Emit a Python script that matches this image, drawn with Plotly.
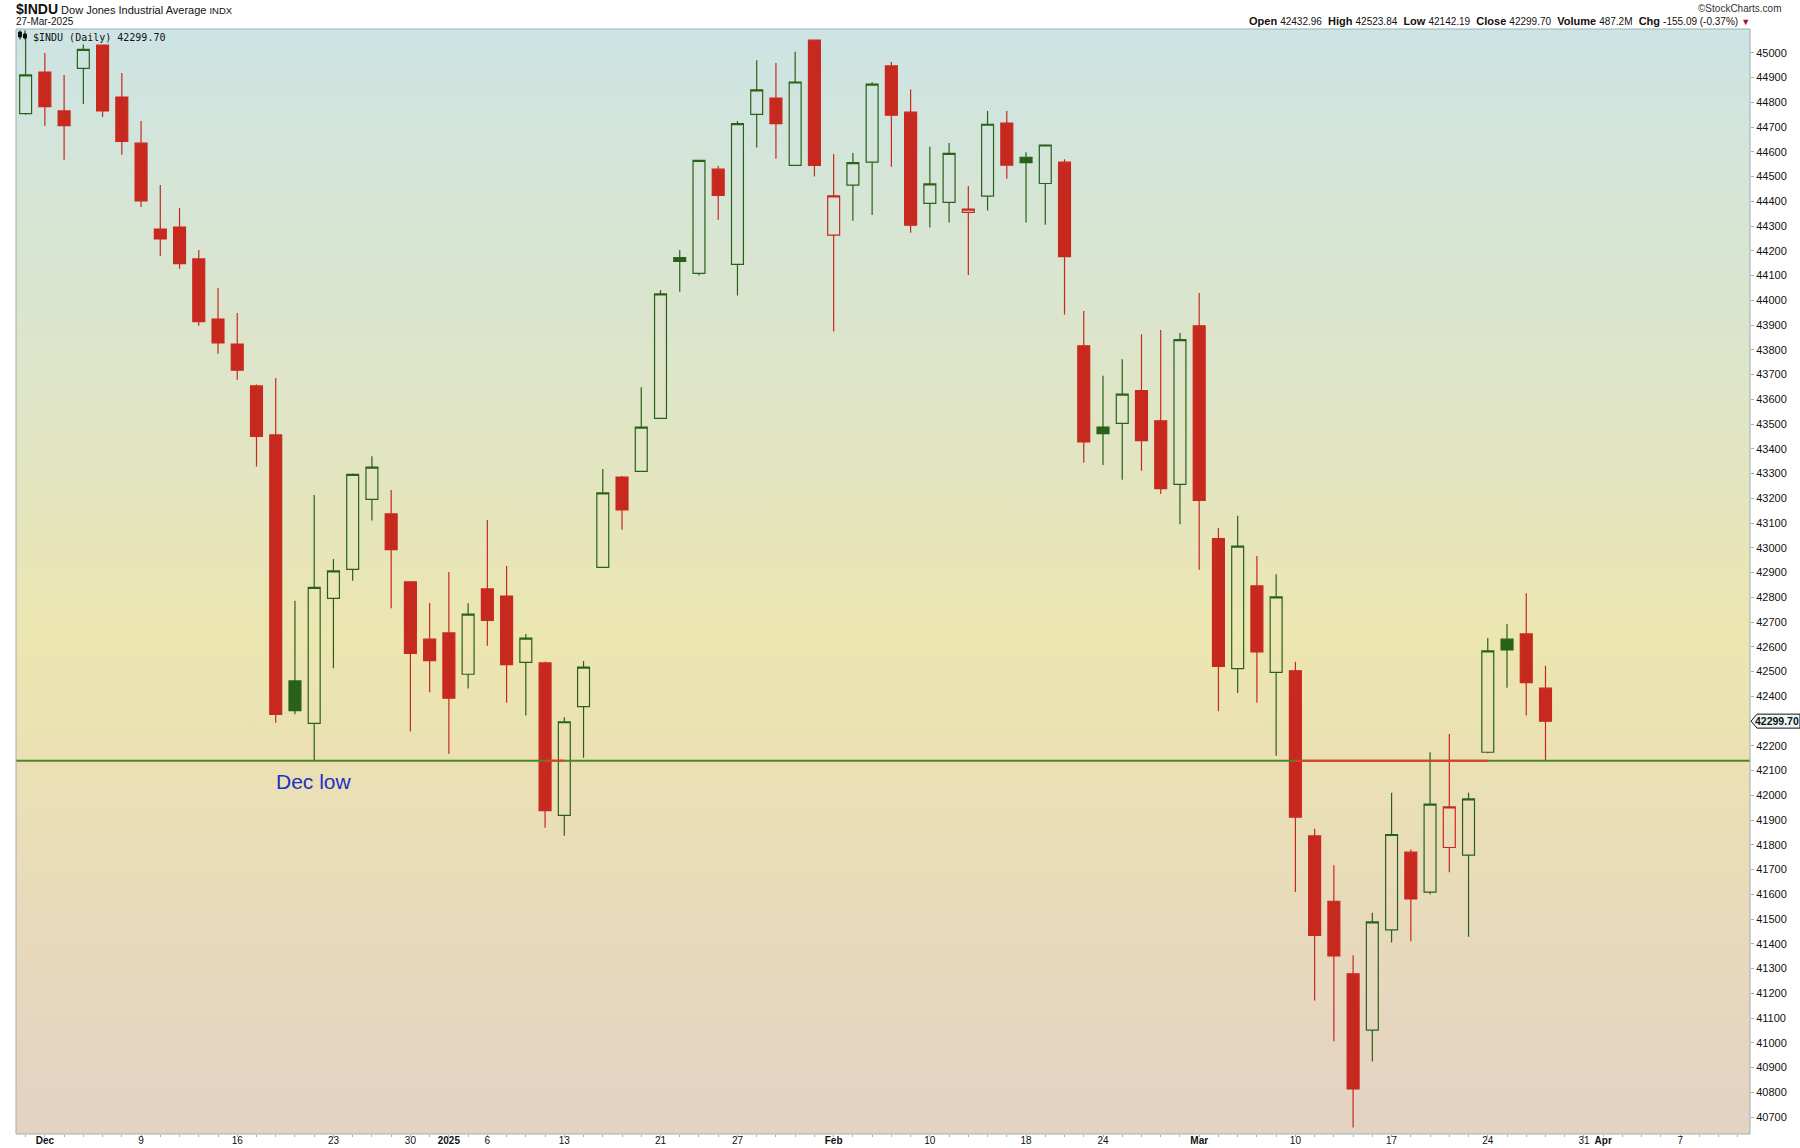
import base64
import pandas as pd
import plotly.graph_objects as go

# $INDU daily bars, 29-Nov-2024 .. 27-Mar-2025
dates = [
    "2024-11-29", "2024-12-02", "2024-12-03", "2024-12-04", "2024-12-05", "2024-12-06",
    "2024-12-09", "2024-12-10", "2024-12-11", "2024-12-12", "2024-12-13",
    "2024-12-16", "2024-12-17", "2024-12-18", "2024-12-19", "2024-12-20",
    "2024-12-23", "2024-12-24", "2024-12-26", "2024-12-27", "2024-12-30", "2024-12-31",
    "2025-01-02", "2025-01-03", "2025-01-06", "2025-01-07", "2025-01-08", "2025-01-10",
    "2025-01-13", "2025-01-14", "2025-01-15", "2025-01-16", "2025-01-17",
    "2025-01-21", "2025-01-22", "2025-01-23", "2025-01-24",
    "2025-01-27", "2025-01-28", "2025-01-29", "2025-01-30", "2025-01-31",
    "2025-02-03", "2025-02-04", "2025-02-05", "2025-02-06", "2025-02-07",
    "2025-02-10", "2025-02-11", "2025-02-12", "2025-02-13", "2025-02-14",
    "2025-02-18", "2025-02-19", "2025-02-20", "2025-02-21",
    "2025-02-24", "2025-02-25", "2025-02-26", "2025-02-27", "2025-02-28",
    "2025-03-03", "2025-03-04", "2025-03-05", "2025-03-06", "2025-03-07",
    "2025-03-10", "2025-03-11", "2025-03-12", "2025-03-13", "2025-03-14",
    "2025-03-17", "2025-03-18", "2025-03-19", "2025-03-20", "2025-03-21",
    "2025-03-24", "2025-03-25", "2025-03-26", "2025-03-27",
]
opens = [
    44754, 44922, 44765, 44937, 45037, 44821,
    44635, 44288, 44296, 44167, 43924,
    43823, 43654, 43456, 42462, 42291,
    42796, 42913, 43196, 43137, 42862, 42631,
    42656, 42489, 42834, 42805, 42537, 42535,
    41919, 42358, 42921, 43286, 43309,
    43523, 44173, 44109, 44530,
    44145, 44751, 44817, 44545, 45051,
    44263, 44465, 44558, 44947, 44760,
    44392, 44396, 44355, 44421, 44716,
    44578, 44472, 44558, 43816,
    43488, 43503, 43635, 43513, 43256,
    43897, 43037, 42512, 42846, 42497,
    42503, 41836, 41572, 41279, 41051,
    41456, 41770, 41609, 41789, 41758,
    42174, 42631, 42652, 42432.96,
]
highs = [
    45070, 44999, 44910, 45062, 45073, 44918,
    44724, 44466, 44373, 44203, 44050,
    43949, 43660, 43686, 42786, 43213,
    42955, 43300, 43370, 43234, 42865, 42777,
    42902, 42776, 43112, 42926, 42652, 42540,
    42315, 42543, 43318, 43290, 43649,
    44042, 44203, 44568, 44543,
    44724, 44970, 44959, 45004, 45054,
    44591, 44595, 44881, 44963, 44852,
    44620, 44636, 44462, 44765, 44765,
    44598, 44631, 44570, 43957,
    43695, 43762, 43863, 43880, 43868,
    44030, 43080, 43130, 42967, 42893,
    42540, 41865, 41717, 41354, 41525,
    42010, 41781, 42174, 42248, 42010,
    42636, 42692, 42816, 42523.84,
]
lows = [
    44750, 44705, 44568, 44793, 44741, 44588,
    44377, 44179, 44128, 43897, 43784,
    43679, 43328, 42293, 42327, 42140,
    42513, 42867, 43110, 42756, 42258, 42416,
    42168, 42432, 42604, 42374, 42322, 41869,
    41837, 42152, 42921, 43073, 43309,
    43523, 44035, 44100, 44325,
    44019, 44617, 44572, 44545, 44500,
    43874, 44321, 44345, 44540, 44273,
    44294, 44314, 44102, 44363, 44491,
    44314, 44305, 43943, 43344,
    43335, 43275, 43311, 43217, 43095,
    42911, 42340, 42413, 42374, 42160,
    41609, 41171, 41006, 40658, 40924,
    41405, 41410, 41600, 41689, 41428,
    42170, 42435, 42322, 42142.19,
]
closes = [
    44910.65, 44782.00, 44705.53, 45014.04, 44765.71, 44642.52,
    44401.93, 44247.83, 44148.56, 43914.12, 43828.06,
    43717.48, 43449.90, 42326.87, 42342.24, 42840.26,
    42906.95, 43297.03, 43325.80, 42992.21, 42573.73, 42544.22,
    42392.27, 42732.13, 42706.56, 42528.36, 42635.20, 41938.45,
    42297.12, 42518.28, 43221.55, 43153.13, 43487.83,
    44025.81, 44156.73, 44565.07, 44424.25,
    44713.58, 44850.35, 44713.52, 44882.13, 44544.66,
    44421.91, 44556.04, 44873.28, 44747.63, 44303.40,
    44470.41, 44593.65, 44368.56, 44711.43, 44546.08,
    44556.34, 44627.59, 44176.65, 43428.02,
    43461.21, 43621.16, 43433.12, 43239.50, 43840.91,
    43191.24, 42520.99, 43006.59, 42579.08, 42801.72,
    41911.71, 41433.48, 41350.93, 40813.57, 41488.19,
    41841.63, 41581.31, 41964.63, 41953.32, 41985.35,
    42583.32, 42587.50, 42454.79, 42299.70,
]
prev_close = 44722.06  # close before the first bar, colours it

# market holidays inside the window (axis counts trading sessions only)
holidays = ["2024-12-25", "2025-01-01", "2025-01-09", "2025-01-20", "2025-02-17"]

tick_dates = ["2024-12-02", "2024-12-09", "2024-12-16", "2024-12-23", "2024-12-30",
              "2025-01-02", "2025-01-06", "2025-01-13", "2025-01-21", "2025-01-27",
              "2025-02-03", "2025-02-10", "2025-02-18", "2025-02-24",
              "2025-03-03", "2025-03-10", "2025-03-17", "2025-03-24", "2025-03-31",
              "2025-04-01", "2025-04-07"]
tick_text = ["<b>Dec</b>", "9", "16", "23", "30", "<b>2025</b>", "6", "13", "21", "27",
             "<b>Feb</b>", "10", "18", "24", "<b>Mar</b>", "10", "17", "24", "31",
             "<b>Apr</b>", "7"]
price_ticks = list(range(40700, 45001, 100))

dec_low = 42140
dec_low_date = "2024-12-20"
red_spans = [("2025-01-10", "2025-01-13"), ("2025-03-10", "2025-03-24")]

header_stats = [("Open", "42432.96"), ("High", "42523.84"), ("Low", "42142.19"),
                ("Close", "42299.70"), ("Volume", "487.2M"), ("Chg", "-155.09 (-0.37%)")]

COLORS = {
    'up': '#2a611a',
    'down': '#c8291f',
    'line': '#4e8527',
    'seg': '#e23b2a',
    'border': '#9cafb3',
    'label': '#1f2fc4',
    'text': '#111111',
}
FONT = "Arial, Liberation Sans, sans-serif"

Y_RANGE = [40631.5, 45096.2]
X_RANGE = [-0.5, 89.63]

# trading-session index used as x
sessions = [d.strftime("%Y-%m-%d") for d in pd.bdate_range("2024-11-29", "2025-04-11")]
sessions = [d for d in sessions if d not in holidays]
pos = {d: i for i, d in enumerate(sessions)}
xs = [pos[d] for d in dates]

prev = [prev_close] + closes[:-1]
rising = [c >= p for c, p in zip(closes, prev)]

# the last-price tag hides the axis label it sits on
y_ticks = [v for v in price_ticks if abs(v - closes[-1]) > 50]


def bars(mask, color):
    idx = [i for i, m in enumerate(mask) if m]
    return go.Candlestick(
        x=[xs[i] for i in idx],
        open=[opens[i] for i in idx], high=[highs[i] for i in idx],
        low=[lows[i] for i in idx], close=[closes[i] for i in idx],
        increasing=dict(line=dict(color=color, width=1.2), fillcolor='rgba(0,0,0,0)'),
        decreasing=dict(line=dict(color=color, width=1.2), fillcolor=color),
        whiskerwidth=0, showlegend=False,
    )


fig = go.Figure()
fig.add_trace(bars(rising, COLORS['up']))
fig.add_trace(bars([not r for r in rising], COLORS['down']))

# background gradient (svg stretched over the plot area)
stops = [(0, '#cde4e4'), (0.18, '#d7e5d3'), (0.39, '#e2e5c2'), (0.55, '#ece6b0'),
         (0.65, '#ebe1b3'), (0.8, '#e8dabb'), (1, '#e4d2c3')]
svg = ("<svg xmlns='http://www.w3.org/2000/svg' viewBox='0 0 10 100' width='10' height='100' "
       "preserveAspectRatio='none'><defs><linearGradient id='g' x1='0' y1='0' x2='0' y2='1'>"
       + "".join(f"<stop offset='{o}' stop-color='{c}'/>" for o, c in stops)
       + "</linearGradient></defs><rect width='10' height='100' fill='url(#g)'/></svg>")
bg_uri = "data:image/svg+xml;base64," + base64.b64encode(svg.encode()).decode()

# Dec low line + red overlays
fig.add_shape(type='line', x0=X_RANGE[0], x1=X_RANGE[1], y0=dec_low, y1=dec_low,
              xref='x', yref='y', line=dict(color=COLORS['line'], width=2))
for a, b in red_spans:
    fig.add_shape(type='line', x0=pos[a], x1=pos[b], y0=dec_low, y1=dec_low,
                  xref='x', yref='y', line=dict(color=COLORS['seg'], width=2))

fig.add_annotation(x=pos[dec_low_date], y=dec_low, xref='x', yref='y', text="Dec low",
                   showarrow=False, yshift=-21, font=dict(family=FONT, size=21, color=COLORS['label']))

# plot frame
fig.add_shape(type='rect', xref='paper', yref='paper', x0=0, x1=1, y0=0, y1=1,
              line=dict(color=COLORS['border'], width=1), layer='above')

PLOT_H = 1105
PLOT_W = 1734


def py(px):  # pixel row -> paper y
    return 1 + (29 - px) / PLOT_H


def pxx(px):  # pixel col -> paper x
    return (px - 16) / PLOT_W


# header
fig.add_annotation(xref='paper', yref='paper', x=pxx(14), y=py(9), xanchor='left', yanchor='middle',
                   showarrow=False,
                   text="<b><span style='font-size:14px'>$INDU</span></b> Dow Jones Industrial Average "
                        "<span style='font-size:9.5px'>INDX</span>",
                   font=dict(family=FONT, size=11, color=COLORS['text']))
fig.add_annotation(xref='paper', yref='paper', x=pxx(14), y=py(21), xanchor='left', yanchor='middle',
                   showarrow=False, text="27-Mar-2025", font=dict(family=FONT, size=10, color=COLORS['text']))
fig.add_annotation(xref='paper', yref='paper', x=pxx(1784), y=py(8), xanchor='right', yanchor='middle',
                   showarrow=False, text="©StockCharts.com", font=dict(family=FONT, size=10, color='#333333'))
stat_txt = "  ".join(f"<b>{k}</b> <span style='font-size:10px'>{v}</span>" for k, v in header_stats)
stat_txt += " <span style='color:#9b1b1b;font-size:9px'>▼</span>"
fig.add_annotation(xref='paper', yref='paper', x=pxx(1752), y=py(21), xanchor='right', yanchor='middle',
                   showarrow=False, text=stat_txt, font=dict(family=FONT, size=11, color=COLORS['text']))

# in-plot legend
fig.add_annotation(xref='paper', yref='paper', x=pxx(31), y=py(29.5), xanchor='left', yanchor='top',
                   showarrow=False, text=f"$INDU (Daily) {closes[-1]:.2f}", bgcolor='#cde4e4',
                   borderpad=1, font=dict(family="DejaVu Sans Mono, monospace", size=10, color='#111111'))
for cx, t, b in [(20, 32, 37), (25, 34, 38)]:
    fig.add_shape(type='line', xref='paper', yref='paper', x0=pxx(cx), x1=pxx(cx),
                  y0=py(30.5), y1=py(39.5), line=dict(color='#111111', width=1))
    fig.add_shape(type='rect', xref='paper', yref='paper', x0=pxx(cx - 1.5), x1=pxx(cx + 1.5),
                  y0=py(t), y1=py(b), line=dict(color='#111111', width=1), fillcolor='#111111')

# last price tag on the right axis
last_y = (closes[-1] - Y_RANGE[0]) / (Y_RANGE[1] - Y_RANGE[0])
fig.add_shape(type='path', xref='paper', yref='paper', xsizemode='pixel', ysizemode='pixel',
              xanchor=1, yanchor=last_y, path="M 1 0 L 7 7 L 50 7 L 50 -7 L 7 -7 Z",
              fillcolor='#eef7f6', line=dict(color='#111111', width=1))
fig.add_annotation(xref='paper', yref='y', x=1, y=closes[-1], xanchor='center', xshift=27,
                   showarrow=False, text=f"<b>{closes[-1]:.2f}</b>",
                   font=dict(family=FONT, size=10.5, color='#111111'))

fig.update_layout(
    width=1800, height=1148,
    margin=dict(l=16, r=50, t=29, b=14, autoexpand=False),
    paper_bgcolor='white',
    plot_bgcolor='rgba(0,0,0,0)',
    boxgap=0.38, boxgroupgap=0,
    images=[dict(source=bg_uri, xref='paper', yref='paper', x=0, y=1, sizex=1, sizey=1,
                 sizing='stretch', layer='below')],
    font=dict(family=FONT, size=11, color=COLORS['text']),
    xaxis=dict(range=X_RANGE, rangeslider=dict(visible=False), showgrid=False, zeroline=False,
               automargin=False,
               tickmode='array', tickvals=[pos[d] for d in tick_dates], ticktext=tick_text,
               ticks='', ticklabelstandoff=-1,
               minor=dict(dtick=1, tick0=0, ticks='outside', ticklen=2, tickcolor=COLORS['border']),
               tickfont=dict(family="Liberation Sans Narrow, Arial Narrow, " + FONT, size=10),
               showline=False),
    yaxis=dict(range=Y_RANGE, side='right', showgrid=False, zeroline=False, automargin=False,
               tickmode='array', tickvals=y_ticks, tickformat='d', ticks='outside', ticklen=3,
               tickcolor=COLORS['border'], tickfont=dict(family=FONT, size=11), showline=False),
    hovermode=False,
)

fig.write_html("out.html", config={'displayModeBar': False},
               post_script="document.body.style.margin='0';")
